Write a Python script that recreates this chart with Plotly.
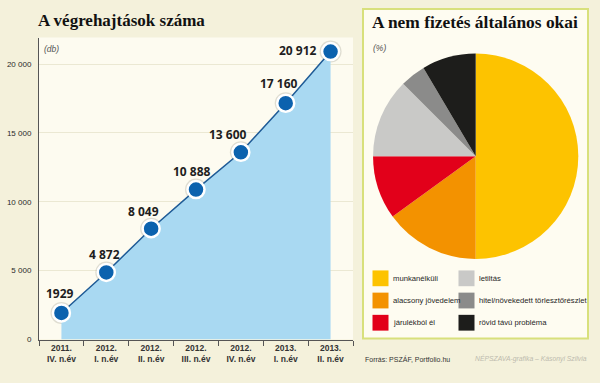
import plotly.graph_objects as go

# ---------------- data ----------------
periods = ["2011.<br>IV. n.év", "2012.<br>I. n.év", "2012.<br>II. n.év", "2012.<br>III. n.év",
           "2012.<br>IV. n.év", "2013.<br>I. n.év", "2013.<br>II. n.év"]
counts = [1929, 4872, 8049, 10888, 13600, 17160, 20912]
count_labels = ["1929", "4 872", "8 049", "10 888", "13 600", "17 160", "20 912"]
y_tick_vals = [0, 5000, 10000, 15000, 20000]
y_tick_text = ["0", "5 000", "10 000", "15 000", "20 000"]

reasons = ["munkanélküli", "alacsony jövedelem", "járulékból él",
           "letiltás", "hitel/növekedett törlesztőrészlet", "rövid távú probléma"]
shares = [50, 15, 10, 12.5, 4, 8.5]
reason_colors = ["#fdc300", "#f39200", "#e2001a", "#c9c9c7", "#8b8b8a", "#1d1d1b"]

# ---------------- styling helpers ----------------
W, H = 600, 383
def px(x):
    return x / W
def py(y):
    return 1 - y / H

SANS = "Liberation Sans, Arial, sans-serif"
SERIF = "Liberation Serif, DejaVu Serif, serif"

fig = go.Figure()

# soft halo under markers
fig.add_trace(go.Scatter(
    x=periods, y=counts, mode="markers",
    marker=dict(size=22, color="rgba(90,90,70,0.18)", line=dict(width=0)),
    hoverinfo="skip", showlegend=False))

fig.add_trace(go.Scatter(
    x=periods, y=counts, mode="lines+markers",
    fill="tozeroy", fillcolor="#a9d9f2",
    line=dict(color="#1f5b96", width=1.5),
    marker=dict(size=17, color="#0b62ae", line=dict(color="white", width=2.5)),
    showlegend=False))

# value labels
label_dx = [-1, -2, -8, -4, -13, -7, -33]
label_dy = [19, 18, 17, 18, 18, 20, 1]
for p, v, t, dx, dy in zip(periods, counts, count_labels, label_dx, label_dy):
    fig.add_annotation(x=p, y=v, text=t, showarrow=False, xref="x", yref="y",
                       xshift=dx, yshift=dy, xanchor="center", yanchor="middle",
                       font=dict(family="Open Sans, sans-serif", size=12, color="#1e1e1e", weight="bold"))

# pie
fig.add_trace(go.Pie(
    labels=reasons, values=shares, sort=False, direction="clockwise", rotation=0,
    marker=dict(colors=reason_colors, line=dict(width=0)),
    textinfo="none", showlegend=False, hoverinfo="label+value",
    domain=dict(x=[px(371.7), px(579.7)], y=[py(262.3), py(54.3)])))

# pie panel box
fig.add_shape(type="rect", xref="paper", yref="paper",
              x0=px(363), x1=px(588), y0=py(343), y1=py(9),
              line=dict(color="#d8e07c", width=2), fillcolor="#fefcf1", layer="below")

# legend for pie (custom grid)
col_x = [372.5, 458.5]
row_y = [282, 304.5, 327]
for i, (name, col) in enumerate(zip(reasons, reason_colors)):
    cx = col_x[i // 3]
    cy = row_y[i % 3]
    fig.add_shape(type="rect", xref="paper", yref="paper",
                  x0=px(cx), x1=px(cx + 16), y0=py(cy + 8), y1=py(cy - 8),
                  line=dict(width=0), fillcolor=col)
    fig.add_annotation(xref="paper", yref="paper", x=px(cx + 18.5), y=py(cy),
                       text=name, showarrow=False, xanchor="left", yanchor="middle",
                       font=dict(family=SANS, size=7.7, color="#1e1e1e"))

# titles and notes
fig.add_annotation(xref="paper", yref="paper", x=px(36), y=py(21), text="<b>A végrehajtások száma</b>",
                   showarrow=False, xanchor="left", yanchor="middle",
                   font=dict(family=SERIF, size=17, color="#111"))
fig.add_annotation(xref="paper", yref="paper", x=px(370), y=py(22), text="<b>A nem fizetés általános okai</b>",
                   showarrow=False, xanchor="left", yanchor="middle",
                   font=dict(family=SERIF, size=17.4, color="#111"))
fig.add_annotation(xref="paper", yref="paper", x=px(42), y=py(50), text="<i>(db)</i>",
                   showarrow=False, xanchor="left", yanchor="middle",
                   font=dict(family=SANS, size=8.5, color="#555"))
fig.add_annotation(xref="paper", yref="paper", x=px(371), y=py(49), text="<i>(%)</i>",
                   showarrow=False, xanchor="left", yanchor="middle",
                   font=dict(family=SANS, size=8.5, color="#555"))
fig.add_annotation(xref="paper", yref="paper", x=px(363), y=py(363.5), text="Forrás: PSZÁF, Portfolio.hu",
                   showarrow=False, xanchor="left", yanchor="middle",
                   font=dict(family=SANS, size=7, color="#333"))
fig.add_annotation(xref="paper", yref="paper", x=px(589), y=py(363.5),
                   text="<i>NÉPSZAVA-grafika – Kásonyi Szilvia</i>",
                   showarrow=False, xanchor="right", yanchor="middle",
                   font=dict(family=SANS, size=6.8, color="#bdbbae"))

fig.update_layout(
    width=W, height=H, margin=dict(l=0, r=0, t=0, b=0),
    paper_bgcolor="#f4f1db", plot_bgcolor="#fdfbf0",
    xaxis=dict(domain=[px(39), px(353)], type="category", range=[-0.5, 6.5],
               tickson="boundaries", ticks="outside", ticklen=5, tickcolor="#555",
               showline=True, linecolor="#555", linewidth=1, showgrid=False,
               tickangle=0,
               tickfont=dict(family=SANS, size=8.5, color="#333", weight="bold"),
               fixedrange=True),
    yaxis=dict(domain=[py(344), py(38)], range=[0, 21935],
               tickvals=y_tick_vals, ticktext=y_tick_text, ticks="",
               showline=True, linecolor="#555", linewidth=1,
               showgrid=True, gridcolor="#ebe8d3", gridwidth=1, zeroline=False,
               tickfont=dict(family=SANS, size=8, color="#2a2a2a"),
               ticklabelstandoff=5, fixedrange=True),
    hovermode=False,
)

fig.write_html("out.html", config={"displayModeBar": False},
               post_script="document.body.style.margin='0';document.body.style.background='#f4f1db';")
